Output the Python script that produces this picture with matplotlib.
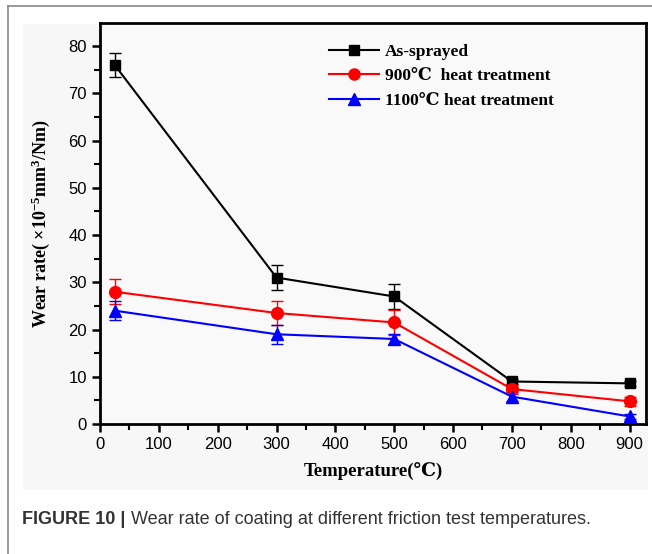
import matplotlib
matplotlib.use("Agg")
import matplotlib.pyplot as plt
from matplotlib.patches import Rectangle
from matplotlib.lines import Line2D
from matplotlib.ticker import MultipleLocator

temps = [25, 300, 500, 700, 900]
as_sprayed = [76.0, 31.0, 27.0, 9.0, 8.6]
as_sprayed_err = [2.6, 2.6, 2.7, 0.5, 0.5]
heat900 = [28.0, 23.5, 21.5, 7.4, 4.8]
heat900_err = [2.6, 2.5, 2.6, 1.0, 1.0]
heat1100 = [24.0, 19.0, 18.0, 5.8, 1.6]
heat1100_err = [2.0, 2.0, 1.0, 1.0, 0.5]
labels = ["As-sprayed", "900\u2103  heat treatment", "1100\u2103 heat treatment"]
xticks = [0, 100, 200, 300, 400, 500, 600, 700, 800, 900]
yticks = [0, 10, 20, 30, 40, 50, 60, 70, 80]

plt.rcParams["mathtext.fontset"] = "custom"
plt.rcParams["mathtext.rm"] = "Liberation Serif:bold"
plt.rcParams["mathtext.it"] = "Liberation Serif:bold"
plt.rcParams["mathtext.bf"] = "Liberation Serif:bold"
plt.rcParams["mathtext.default"] = "rm"

serif = ["Liberation Serif", "DejaVu Serif", "DejaVu Sans"]

fig = plt.figure(figsize=(6.52, 5.54), dpi=100)
fig.patch.set_facecolor("white")

# outer frame and image background
fig.add_artist(Line2D([8/652, 8/652], [0, 1 - 6/554], transform=fig.transFigure, color="#888888", lw=1.2))
fig.add_artist(Line2D([8/652, 1], [1 - 6/554, 1 - 6/554], transform=fig.transFigure, color="#888888", lw=1.2))
fig.add_artist(Rectangle((23/652, 1 - 490/554), (648 - 23)/652, (490 - 24)/554,
                         transform=fig.transFigure, facecolor="#f7f7f7", edgecolor="none", zorder=0))

ax = fig.add_axes([100/652, 1 - 424/554, (646 - 100)/652, (424 - 23)/554])
ax.set_facecolor("#f9f9f9")

series = [(as_sprayed, as_sprayed_err, "black", "s", 7.5),
          (heat900, heat900_err, "red", "o", 8.5),
          (heat1100, heat1100_err, "blue", "^", 8.5)]
for (vals, errs, col, mk, ms), lab in zip(series, labels):
    ax.errorbar(temps, vals, yerr=errs, color=col, marker=mk, markersize=ms, lw=1.5,
                capsize=4, elinewidth=1.0, capthick=1.0, label=lab, ecolor=col)

ax.set_xlim(0, 928)
ax.set_ylim(0, 84.9)
ax.set_xticks(xticks)
ax.set_yticks(yticks)
ax.xaxis.set_minor_locator(MultipleLocator(50))
ax.yaxis.set_minor_locator(MultipleLocator(5))
ax.tick_params(which="major", direction="out", length=6, width=1.8, labelsize=12,
               labelfontfamily="Liberation Sans")
ax.tick_params(which="minor", direction="out", length=4, width=1.5)
for s in ax.spines.values():
    s.set_linewidth(2)

ax.set_xlabel("Temperature(\u2103)", fontsize=13.5, fontweight="bold", family=serif, labelpad=7)
ax.set_ylabel("Wear rate( \u00d710$^{-5}$mm$^{3}$/Nm)", fontsize=13, fontweight="bold",
              family=serif, labelpad=12)

handles = [Line2D([], [], color=c, marker=m, markersize=ms - 0.5, lw=1.5) for (_, _, c, m, ms) in series]
ax.legend(handles, labels, loc="upper left", bbox_to_anchor=(0.39, 0.988), frameon=False,
          prop={"family": serif, "weight": "bold", "size": 12.5},
          handlelength=2.9, handletextpad=0.35, labelspacing=0.5)

t1 = fig.text(22/652, 1 - 520/554, "FIGURE 10 |", fontsize=13, fontweight="bold", color="#333333",
              family="Liberation Sans", va="center")
fig.canvas.draw()
bb = t1.get_window_extent()
fig.text((bb.x1 + 6) / fig.bbox.width, 1 - 520/554,
         "Wear rate of coating at different friction test temperatures.",
         fontsize=13, color="#333333", family="Liberation Sans", va="center")

fig.savefig("out.png", dpi=100)
